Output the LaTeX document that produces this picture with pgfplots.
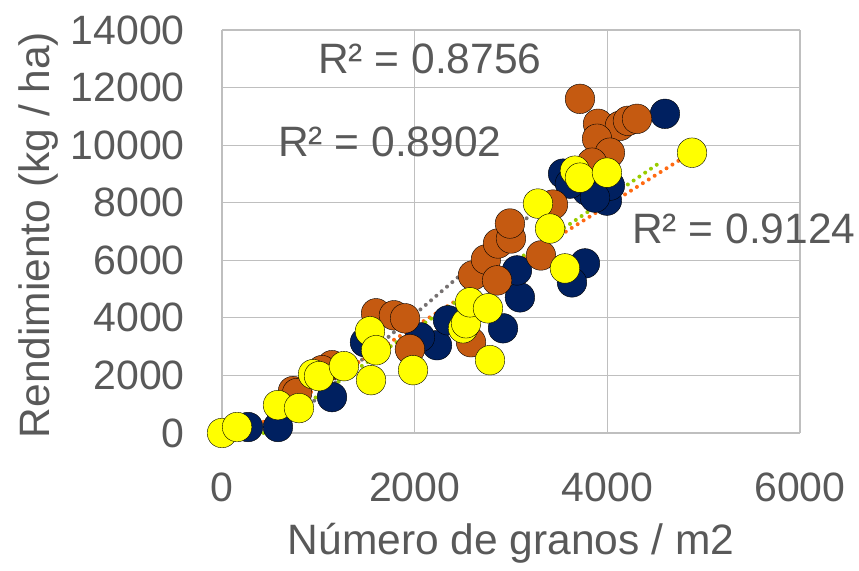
\documentclass[border=0pt]{standalone}
\usepackage{fontspec}
\setmainfont{Liberation Sans}
\usepackage{pgfplots}
\pgfplotsset{compat=1.18}

\definecolor{navy}{HTML}{002060}
\definecolor{rust}{HTML}{C55A11}
\definecolor{yell}{HTML}{FFFF00}
\definecolor{txt}{HTML}{595959}
\definecolor{grid}{HTML}{D9D9D9}
\definecolor{spine}{HTML}{BFBFBF}
\definecolor{tgray}{HTML}{767171}
\definecolor{torange}{HTML}{FF6A13}
\definecolor{tgreen}{HTML}{99CC00}

\begin{document}
\fontsize{42.5bp}{50bp}\selectfont
\begin{tikzpicture}
\path[use as bounding box] (-222bp,-138bp) rectangle (637bp,433bp);
\begin{axis}[
  at={(0,0)}, anchor=south west,
  scale only axis, width=578bp, height=403bp,
  xmin=0, xmax=6000, ymin=0, ymax=14000,
  xtick={0,2000,4000,6000}, ytick={0,2000,...,14000},
  scaled ticks=false,
  major tick length=0pt,
  grid=major, major grid style={grid, line width=1.2bp},
  axis line style={spine, line width=1.4bp},
  axis x line*=bottom, axis y line*=left,
  /pgf/number format/assume math mode=true,
  /pgf/number format/1000 sep={},
  ticklabel style={font=\fontsize{41bp}{49bp}\selectfont, text=txt, inner sep=0pt},
  xticklabel style={anchor=north, yshift=-40bp},
  yticklabel style={anchor=east, xshift=-37bp},
  clip=false,
  every axis plot/.append style={only marks, mark=*, mark size=14.8bp,
    mark options={draw=black, line width=1.5bp}},
]
% navy series
\addplot[mark options={fill=navy}] coordinates {
(270,208) (581,208) (1142,1247) (1484,3153) (2232,3049) (2055,3326)
(2346,3915) (2917,3638) (3093,4712) (3062,5648) (3768,5891) (3633,5232)
(3789,8420) (3996,8073) (4598,11088) (3540,9009) (3612,8663) (4027,8593)
(3872,8177)
};
% rust series
\addplot[mark options={fill=rust}] coordinates {
(737,1455) (779,1386) (1142,2356) (1038,2183) (1599,4158) (1785,4089)
(1900,3985) (1951,2911) (2585,3153) (2605,5475) (2740,6029) (2855,5301)
(2865,6584) (3000,6757) (2989,7277) (3311,6168) (3436,7935) (3716,11608)
(3903,10742) (4131,10672) (4214,10845) (4308,10915) (3893,10222)
(4027,9737) (3841,9390)
};
% yellow series
\addplot[mark options={fill=yell}] coordinates {
(0,0) (156,208) (581,970) (799,866) (945,2044) (1007,1975) (1266,2322)
(1547,1836) (1536,3534) (1599,2876) (1983,2183) (2502,3638) (2533,3812)
(2574,4539) (2761,4331) (2782,2529) (3280,7970) (3405,7103) (3560,5717)
(3664,9113) (3716,8870) (3996,9044) (4879,9737)
};
% linear trend lines
\addplot[no marks, sharp plot, draw=tgray, line width=4bp, line cap=round,
  dash pattern=on 0pt off 7bp] coordinates {(737,489) (4308,10752)};
\addplot[no marks, sharp plot, draw=torange, line width=4bp, line cap=round,
  dash pattern=on 0pt off 7bp] coordinates {(248,0) (4879,9753)};
\addplot[no marks, sharp plot, draw=tgreen, line width=4bp, line cap=round,
  dash pattern=on 0pt off 7bp] coordinates {(431,0) (4540,9380)};
\end{axis}
\begin{scope}[text=txt]
\node[anchor=base west, inner sep=0pt] at (96bp,359bp) {R² = 0.8756};
\node[anchor=base west, inner sep=0pt] at (56bp,276bp) {R² = 0.8902};
\node[anchor=base west, inner sep=0pt] at (410bp,189bp) {R² = 0.9124};
\node[anchor=base, inner sep=0pt] at (289bp,-121bp) {Número de granos / m2};
\node[anchor=base, inner sep=0pt, rotate=90] at (-172bp,198bp) {Rendimiento (kg / ha)};
\end{scope}
\end{tikzpicture}
\end{document}
